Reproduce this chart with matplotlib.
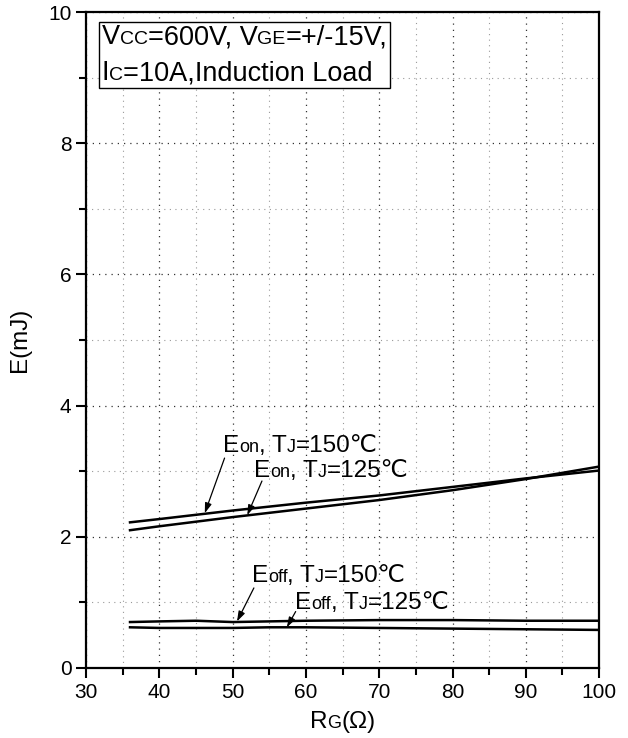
import matplotlib
matplotlib.use("Agg")
import matplotlib.pyplot as plt
from matplotlib.offsetbox import TextArea, HPacker, VPacker, AnnotationBbox
from matplotlib.ticker import MultipleLocator

plt.rcParams['font.family'] = ['Liberation Sans', 'DejaVu Sans']

# ---- data ----
rg_on = [36, 40, 50, 60, 70, 80, 90, 100]
eon_150 = [2.22, 2.27, 2.40, 2.52, 2.63, 2.76, 2.89, 3.01]
eon_125 = [2.10, 2.16, 2.30, 2.43, 2.56, 2.71, 2.88, 3.07]
rg_off = [36, 40, 45, 50, 55, 60, 70, 80, 90, 100]
eoff_150 = [0.70, 0.71, 0.72, 0.70, 0.71, 0.72, 0.73, 0.73, 0.72, 0.72]
eoff_125 = [0.62, 0.61, 0.61, 0.61, 0.62, 0.62, 0.61, 0.60, 0.59, 0.58]
xticks = [30, 40, 50, 60, 70, 80, 90, 100]
yticks = [0, 2, 4, 6, 8, 10]

TICK = 15

fig = plt.figure(figsize=(6.28, 7.38), dpi=100)
ax = fig.add_axes([0.137, 0.0949, 0.817, 0.8888])

for x, y in [(rg_on, eon_150), (rg_on, eon_125), (rg_off, eoff_150), (rg_off, eoff_125)]:
    ax.plot(x, y, color='black', lw=1.8, zorder=3)

ax.set_xlim(30, 100)
ax.set_ylim(0, 10)
ax.set_xticks(xticks)
ax.set_yticks(yticks)
ax.xaxis.set_minor_locator(MultipleLocator(5))
ax.yaxis.set_minor_locator(MultipleLocator(1))
ax.tick_params(which='both', direction='out', width=1.5, top=False, right=False, labelsize=TICK)
ax.tick_params(which='major', length=7)
ax.tick_params(which='minor', length=5)
for s in ax.spines.values():
    s.set_linewidth(1.6)
ax.grid(which='major', color='#333333', linestyle=(0, (1, 4)), linewidth=0.9)
ax.grid(which='minor', color='#999999', linestyle=(0, (1, 4)), linewidth=0.8)

ax.set_ylabel('E(mJ)', fontsize=17.5, labelpad=12)


def rich(parts, big, small):
    areas = [TextArea(t, textprops=dict(fontsize=(big if b else small), color='black'))
             for t, b in parts]
    return HPacker(children=areas, align='baseline', pad=0, sep=0)


# x label
xl = AnnotationBbox(rich([('R', True), ('G', False), ('(Ω)', True)], 17.5, 13), (0.5, -0.082),
                    xycoords='axes fraction', frameon=False, box_alignment=(0.5, 0.5))
ax.add_artist(xl)

# condition box
line1 = rich([('V', True), ('CC', False), ('=600V, V', True), ('GE', False), ('=+/-15V,', True)], 19.5, 14)
line2 = rich([('I', True), ('C', False), ('=10A,Induction Load', True)], 19.5, 14)
vbox = VPacker(children=[line1, line2], align='left', pad=0, sep=7)
cond = AnnotationBbox(vbox, (32.1, 9.81), xycoords='data', box_alignment=(0, 1),
                      frameon=True, pad=0.15,
                      bboxprops=dict(edgecolor='black', facecolor='white', lw=1.0))
ax.add_artist(cond)

# curve labels
labels = [
    ([('E', True), ('on', False), (', T', True), ('J', False), ('=150℃', True)], (48.7, 3.22), (48.9, 3.20), (46.2, 2.36)),
    ([('E', True), ('on', False), (', T', True), ('J', False), ('=125℃', True)], (52.9, 2.84), (54.0, 2.85), (52.0, 2.33)),
    ([('E', True), ('off', False), (', T', True), ('J', False), ('=150℃', True)], (52.6, 1.24), (52.9, 1.22), (50.6, 0.71)),
    ([('E', True), ('off', False), (', T', True), ('J', False), ('=125℃', True)], (58.5, 0.83), (58.6, 0.86), (57.4, 0.62)),
]
for parts, tpos, tail, tip in labels:
    ab = AnnotationBbox(rich(parts, 17.5, 13), tpos, xycoords='data', frameon=False, box_alignment=(0, 0))
    ax.add_artist(ab)
    ax.annotate('', xy=tip, xytext=tail,
                arrowprops=dict(arrowstyle='-|>,head_length=0.6,head_width=0.2', color='black', lw=0.9,
                                shrinkA=0, shrinkB=0))

fig.savefig('out.png', dpi=100)
